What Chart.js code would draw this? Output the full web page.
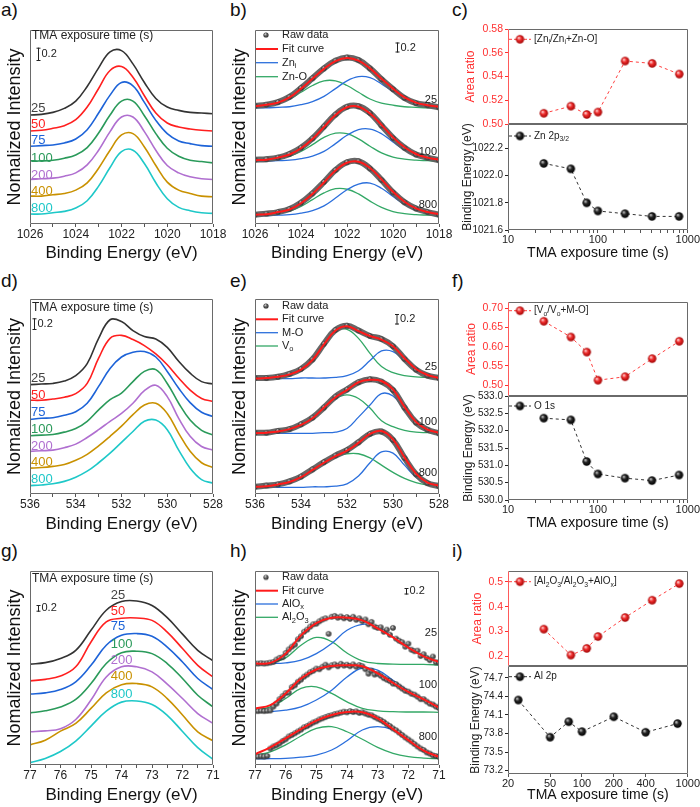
<!DOCTYPE html>
<html><head><meta charset="utf-8">
<style>
html,body{margin:0;padding:0;background:#fff;}
#wrap{position:relative;width:700px;height:807px;overflow:hidden;background:#fff;}
#wrap canvas{position:absolute;left:0;top:0;}
.pl{position:absolute;font-family:'Liberation Sans',Arial,sans-serif;font-size:19px;line-height:19px;color:#111;}
</style>
<script src="https://cdn.jsdelivr.net/npm/chart.js@4.4.1/dist/chart.umd.min.js"></script>
</head><body>
<div id="wrap">
<div class="pl" style="left:1px;top:0px">a)</div>
<div class="pl" style="left:230px;top:0px">b)</div>
<div class="pl" style="left:452px;top:0px">c)</div>
<div class="pl" style="left:1px;top:271px">d)</div>
<div class="pl" style="left:230px;top:271px">e)</div>
<div class="pl" style="left:452px;top:271px">f)</div>
<div class="pl" style="left:1px;top:541px">g)</div>
<div class="pl" style="left:230px;top:541px">h)</div>
<div class="pl" style="left:452px;top:541px">i)</div>
</div>
<script>
// ---------------- DATA ----------------
const timeLabels = ['25','50','75','100','200','400','800'];
const exposureTimes = [25,50,75,100,200,400,800];

// (a) Zn 2p spectra
const zn_x = [1026,1025.5,1025,1024.5,1024,1023.5,1023,1022.5,1022,1021.5,1021,1020.5,1020,1019.5,1019,1018.5,1018];
const zn_25  = [1.64,1.65,1.68,1.74,1.85,2.07,2.35,2.59,2.61,2.41,2.13,1.89,1.76,1.71,1.68,1.67,1.66];
const zn_50  = [1.40,1.41,1.44,1.48,1.57,1.76,2.04,2.31,2.37,2.21,1.93,1.67,1.52,1.46,1.43,1.41,1.40];
const zn_75  = [1.17,1.18,1.19,1.22,1.28,1.42,1.67,1.94,2.13,2.08,1.83,1.56,1.36,1.25,1.21,1.18,1.17];
const zn_100 = [0.95,0.95,0.96,0.99,1.04,1.15,1.37,1.64,1.85,1.85,1.63,1.36,1.14,1.02,0.96,0.94,0.92];
const zn_200 = [0.67,0.68,0.69,0.72,0.77,0.89,1.11,1.39,1.61,1.61,1.39,1.11,0.88,0.77,0.71,0.68,0.67];
const zn_400 = [0.42,0.42,0.44,0.46,0.51,0.62,0.84,1.11,1.34,1.36,1.16,0.88,0.63,0.51,0.46,0.42,0.41];
const zn_800 = [0.15,0.15,0.17,0.19,0.24,0.35,0.57,0.85,1.09,1.11,0.91,0.62,0.38,0.25,0.20,0.17,0.16];

// (b) Zn 2p fits
const b25_raw = [2.28,2.30,2.35,2.45,2.62,2.81,3.00,3.15,3.21,3.16,3.00,2.79,2.60,2.43,2.33,2.29,2.25];
const b25_fit = [2.27,2.30,2.34,2.44,2.61,2.80,2.99,3.14,3.20,3.15,3.00,2.80,2.61,2.44,2.34,2.29,2.26];
const b25_zni = [2.24,2.24,2.25,2.26,2.30,2.36,2.46,2.61,2.76,2.84,2.82,2.70,2.55,2.41,2.32,2.28,2.26];
const b25_zno = [2.26,2.29,2.33,2.41,2.54,2.67,2.76,2.76,2.67,2.54,2.41,2.33,2.29,2.26,2.25,2.24,2.24];
const b100_raw = [1.24,1.25,1.28,1.35,1.47,1.65,1.88,2.11,2.26,2.27,2.14,1.90,1.66,1.47,1.34,1.28,1.23];
const b100_fit = [1.23,1.24,1.28,1.34,1.46,1.64,1.87,2.10,2.25,2.26,2.13,1.91,1.67,1.48,1.35,1.28,1.24];
const b100_zni = [1.21,1.21,1.22,1.23,1.26,1.31,1.40,1.55,1.71,1.82,1.83,1.74,1.58,1.43,1.32,1.27,1.23];
const b100_zno = [1.22,1.23,1.26,1.31,1.40,1.53,1.67,1.75,1.74,1.64,1.50,1.37,1.29,1.25,1.23,1.22,1.21];
const b800_raw = [0.18,0.20,0.23,0.29,0.41,0.59,0.81,1.04,1.19,1.21,1.07,0.85,0.61,0.42,0.30,0.23,0.18];
const b800_fit = [0.18,0.19,0.23,0.28,0.40,0.58,0.80,1.03,1.18,1.20,1.08,0.86,0.62,0.43,0.30,0.23,0.19];
const b800_zni = [0.16,0.16,0.17,0.18,0.21,0.26,0.35,0.50,0.66,0.77,0.79,0.69,0.53,0.38,0.27,0.22,0.18];
const b800_zno = [0.17,0.18,0.21,0.25,0.34,0.47,0.60,0.68,0.67,0.58,0.44,0.32,0.24,0.20,0.18,0.17,0.16];

// (d) O 1s spectra
const o_x = [536,535.5,535,534.5,534,533.5,533,532.5,532,531.5,531,530.5,530,529.5,529,528.5,528];
const o_25  = [1.82,1.83,1.84,1.88,1.97,2.17,2.59,2.90,2.87,2.72,2.62,2.58,2.44,2.21,2.01,1.87,1.83];
const o_50  = [1.56,1.56,1.58,1.61,1.67,1.84,2.26,2.59,2.64,2.57,2.47,2.33,2.15,1.93,1.73,1.59,1.54];
const o_75  = [1.24,1.26,1.27,1.31,1.37,1.51,1.79,2.09,2.28,2.36,2.37,2.28,2.04,1.76,1.52,1.36,1.29];
const o_100 = [0.97,0.98,0.99,1.03,1.09,1.21,1.40,1.57,1.68,1.87,2.04,2.07,1.84,1.51,1.23,1.06,0.98];
const o_200 = [0.71,0.72,0.73,0.77,0.83,0.94,1.07,1.21,1.34,1.51,1.72,1.81,1.62,1.26,0.96,0.79,0.73];
const o_400 = [0.43,0.44,0.46,0.49,0.56,0.66,0.80,0.96,1.13,1.32,1.48,1.51,1.34,1.01,0.71,0.52,0.44];
const o_800 = [0.14,0.15,0.17,0.21,0.28,0.38,0.52,0.68,0.86,1.04,1.21,1.23,1.07,0.73,0.43,0.24,0.18];

// (e) O 1s fits
const e25_raw = [1.93,1.93,1.95,2.00,2.08,2.24,2.50,2.73,2.80,2.72,2.63,2.58,2.46,2.25,2.07,1.97,1.93];
const e25_fit = [1.92,1.93,1.95,1.99,2.07,2.23,2.49,2.72,2.79,2.71,2.63,2.57,2.46,2.26,2.08,1.98,1.93];
const e25_mo  = [1.92,1.92,1.92,1.92,1.93,1.93,1.93,1.94,1.97,2.05,2.22,2.38,2.37,2.22,2.06,1.97,1.93];
const e25_vo  = [1.93,1.93,1.96,1.99,2.07,2.23,2.48,2.71,2.74,2.59,2.34,2.12,2.02,1.97,1.95,1.94,1.93];
const e100_raw = [1.02,1.02,1.05,1.08,1.16,1.27,1.44,1.62,1.74,1.86,1.91,1.87,1.73,1.44,1.19,1.07,1.01];
const e100_fit = [1.01,1.02,1.04,1.08,1.15,1.26,1.44,1.61,1.73,1.86,1.90,1.88,1.74,1.45,1.20,1.07,1.02];
const e100_mo  = [1.01,1.01,1.01,1.01,1.01,1.01,1.02,1.03,1.09,1.28,1.48,1.67,1.63,1.40,1.18,1.06,1.02];
const e100_vo  = [1.01,1.02,1.04,1.08,1.15,1.26,1.43,1.59,1.65,1.59,1.43,1.22,1.12,1.06,1.03,1.02,1.01];
const e800_raw = [0.12,0.14,0.16,0.21,0.29,0.41,0.53,0.64,0.73,0.86,1.00,1.04,0.90,0.60,0.33,0.18,0.13];
const e800_fit = [0.12,0.13,0.16,0.20,0.28,0.40,0.52,0.63,0.72,0.85,1.00,1.05,0.91,0.61,0.34,0.19,0.14];
const e800_mo  = [0.11,0.11,0.11,0.11,0.11,0.12,0.12,0.13,0.17,0.30,0.52,0.70,0.68,0.48,0.28,0.17,0.14];
const e800_vo  = [0.12,0.13,0.16,0.21,0.29,0.40,0.52,0.62,0.67,0.67,0.60,0.48,0.36,0.26,0.19,0.15,0.13];

// (g) Al 2p spectra
const al_x = [77,76.5,76,75.5,75,74.5,74,73.5,73,72.5,72,71.5,71];
const al_25  = [3.37,3.42,3.56,3.83,4.50,5.17,5.46,5.48,5.33,4.92,4.37,3.83,3.48];
const al_50  = [2.81,2.86,2.97,3.28,4.11,4.78,4.90,4.91,4.83,4.44,3.89,3.33,2.94];
const al_75  = [2.37,2.41,2.52,2.78,3.33,4.00,4.33,4.39,4.30,3.94,3.44,2.89,2.52];
const al_100 = [1.74,1.81,1.94,2.19,2.72,3.39,3.75,3.80,3.72,3.39,2.89,2.33,1.94];
const al_200 = [1.11,1.14,1.21,1.52,2.17,2.94,3.28,3.28,3.11,2.70,2.22,1.72,1.39];
const al_400 = [0.67,0.83,1.13,1.39,1.89,2.41,2.68,2.72,2.61,2.22,1.67,1.11,0.81];
const al_800 = [0.08,0.22,0.45,0.80,1.30,1.80,2.10,2.14,2.02,1.66,1.12,0.58,0.19];

// (h) Al 2p fits
const alRaw_x = [77,76.9,76.8,76.7,76.6,76.5,76.4,76.3,76.2,76.1,76,75.9,75.8,75.7,75.6,75.5,75.4,75.3,75.2,75.1,75,74.9,74.8,74.7,74.6,74.5,74.4,74.3,74.2,74.1,74,73.9,73.8,73.7,73.6,73.5,73.4,73.3,73.2,73.1,73,72.9,72.8,72.7,72.6,72.5,72.4,72.3,72.2,72.1,72,71.9,71.8,71.7,71.6,71.5,71.4,71.3,71.2,71.1,71];
const h25_raw = [3.39,3.39,3.40,3.39,3.40,3.42,3.44,3.52,3.58,3.60, 3.74,3.86,3.95,4.02,4.20,4.30,4.45,4.52,4.62,4.70, 4.72,4.80,4.86,4.90,4.38,4.95,4.98,4.92,4.96,4.90, 4.94,4.88,4.95,4.85,4.90,4.80,4.86,4.70,4.78,4.62, 4.58,4.60,4.45,4.52,4.35,4.58,4.22,4.15,4.10,3.95, 4.05,3.85,3.80,3.82,3.64,3.70,3.58,3.50,3.62,3.43,3.42];
const h25_fit   = [3.39,3.41,3.72,4.33,4.74,4.92,4.92,4.83,4.56,4.26,3.92,3.63,3.44];
const h25_alox  = [3.39,3.39,3.41,3.50,3.72,4.06,4.50,4.70,4.61,4.28,3.94,3.63,3.44];
const h25_al2o3 = [3.39,3.41,3.58,4.00,4.26,4.12,3.74,3.48,3.39,3.37,3.36,3.36,3.34];
const h100_raw = [1.80,1.80,1.81,1.80,1.81,1.82,1.95,2.05,2.20,2.30, 2.40,2.42,2.60,2.66,2.78,2.85,2.95,3.02,3.10,3.15, 3.22,3.20,3.28,3.35,3.26,3.33,3.36,3.30,3.38,3.32, 3.35,3.30,3.36,3.28,3.34,3.30,3.20,3.05,3.15,3.02, 3.05,2.98,2.90,2.85,2.80,2.72,2.70,2.62,2.55,2.48, 2.45,2.38,2.35,2.28,2.20,2.20,2.12,2.05,2.02,1.95,1.90];
const h100_fit   = [1.89,2.00,2.39,2.89,3.19,3.31,3.33,3.30,3.06,2.74,2.44,2.19,1.92];
const h100_alox  = [1.77,1.78,1.83,1.94,2.17,2.50,2.94,3.24,3.17,2.83,2.48,2.17,1.89];
const h100_al2o3 = [1.83,1.94,2.22,2.56,2.61,2.39,2.11,1.89,1.81,1.78,1.77,1.77,1.76];
const h800_raw = [0.28,0.28,0.29,0.28,0.30,0.55,0.62,0.66,0.72,0.80, 0.86,0.95,1.00,1.06,1.12,1.18,1.26,1.30,1.36,1.42, 1.46,1.52,1.56,1.60,1.64,1.66,1.70,1.72,1.75,1.78, 1.76,1.80,1.77,1.79,1.74,1.76,1.72,1.68,1.66,1.60, 1.55,1.50,1.44,1.36,1.30,1.22,1.16,1.08,1.00,0.92, 0.85,0.78,0.70,0.62,0.55,0.50,0.42,0.38,0.32,0.30,0.27];
const h800_fit   = [0.36,0.59,0.89,1.20,1.48,1.67,1.77,1.76,1.56,1.20,0.83,0.48,0.27];
const h800_alox  = [0.21,0.21,0.22,0.26,0.33,0.50,0.81,1.17,1.28,1.17,0.86,0.52,0.28];
const h800_al2o3 = [0.32,0.44,0.67,0.97,1.22,1.28,1.11,0.86,0.59,0.39,0.28,0.23,0.21];

// (c)(f)(i) summary data
const znRatio = [0.509,0.515,0.508,0.510,0.553,0.551,0.542];
const znBE    = [1022.09,1022.05,1021.80,1021.74,1021.72,1021.70,1021.70];
const oRatio  = [0.666,0.625,0.586,0.513,0.522,0.569,0.614];
const oBE     = [532.36,532.31,531.11,530.75,530.63,530.56,530.72];
const alRatio = [0.309,0.204,0.231,0.279,0.356,0.426,0.493];
const alBE    = [74.34,73.74,73.99,73.83,74.07,73.82,73.96];
const logTicksI = [20,50,100,200,400,1000];

// ---------------- STYLE / HELPERS ----------------
const FONT = "'Liberation Sans', Arial, Helvetica, sans-serif";
Chart.defaults.font.family = FONT;
Chart.defaults.color = '#222';
const W = 700, H = 807;
const COLORS = ['#333333','#ff1f1f','#1d63d8','#2a9a5a','#b06fd0','#c99100','#1ec8c8'];
const LABELCOL = ['#444444','#ff1f1f','#1d63d8','#2a9a5a','#b06fd0','#c99100','#1ec8c8'];
const FITRED = '#ff1a1a', CBLUE = '#2b6fdc', CGREEN = '#33a866';
const RATIORED = '#ff4040';

function sphere(r, base, light, dark) {
  const s = Math.ceil(2 * r + 2);
  const c = document.createElement('canvas'); c.width = s; c.height = s;
  const g = c.getContext('2d');
  const cx = s / 2, cy = s / 2;
  const grad = g.createRadialGradient(cx - r * 0.35, cy - r * 0.4, r * 0.05, cx, cy, r);
  grad.addColorStop(0, light); grad.addColorStop(0.45, base); grad.addColorStop(1, dark);
  g.fillStyle = grad; g.beginPath(); g.arc(cx, cy, r, 0, Math.PI * 2); g.fill();
  return c;
}
const redBall = sphere(4.2, '#f03030', '#ffe0e0', '#a00000');
const blackBall = sphere(4.2, '#252525', '#d0d0d0', '#000000');
const grayBall = sphere(2.6, '#6a6a6a', '#e8e8e8', '#2a2a2a');
const grayBallH = sphere(2.8, '#6a6a6a', '#e8e8e8', '#2a2a2a');

function drawRich(ctx, str, x, y, size, color, align) {
  const segs = str.split(/(_\{[^}]*\})/).filter(s => s.length).map(p =>
    p.startsWith('_{') ? {t: p.slice(2, -1), sub: true} : {t: p, sub: false});
  ctx.save();
  ctx.fillStyle = color; ctx.textBaseline = 'middle'; ctx.textAlign = 'left';
  let total = 0;
  segs.forEach(s => { ctx.font = (s.sub ? size * 0.68 : size) + 'px ' + FONT; s.w = ctx.measureText(s.t).width; total += s.w; });
  let cx = align === 'right' ? x - total : (align === 'center' ? x - total / 2 : x);
  segs.forEach(s => {
    ctx.font = (s.sub ? size * 0.68 : size) + 'px ' + FONT;
    ctx.fillText(s.t, cx, s.sub ? y + size * 0.3 : y);
    cx += s.w;
  });
  ctx.restore();
}
function scaleBar(ctx, x, y1, y2, size) {
  ctx.save(); ctx.strokeStyle = '#222'; ctx.lineWidth = 1;
  ctx.beginPath();
  ctx.moveTo(x + 0.5, y1); ctx.lineTo(x + 0.5, y2);
  ctx.moveTo(x - 1.5, y1 + 0.5); ctx.lineTo(x + 2.5, y1 + 0.5);
  ctx.moveTo(x - 1.5, y2 - 0.5); ctx.lineTo(x + 2.5, y2 - 0.5);
  ctx.stroke(); ctx.restore();
  drawRich(ctx, '0.2', x + 3.5, (y1 + y2) / 2, size, '#222', 'left');
}
function drawFrame(chart, leftColor) {
  const {ctx, chartArea: a} = chart;
  ctx.save(); ctx.lineWidth = 1; ctx.strokeStyle = '#6a6a6a';
  const l = Math.round(a.left) + 0.5, t = Math.round(a.top) + 0.5, r = Math.round(a.right) - 0.5, b = Math.round(a.bottom) - 0.5;
  ctx.beginPath(); ctx.moveTo(l, t); ctx.lineTo(r, t); ctx.lineTo(r, b); ctx.lineTo(l, b);
  if (!leftColor) ctx.closePath();
  ctx.stroke();
  if (leftColor) { ctx.strokeStyle = leftColor; ctx.beginPath(); ctx.moveTo(l, t); ctx.lineTo(l, b); ctx.stroke(); }
  ctx.restore();
}
function specLegend(ctx, rows) {
  rows.forEach(r => {
    if (r.dot) ctx.drawImage(grayBall, 266 - grayBall.width / 2, r.y - grayBall.height / 2);
    else {
      ctx.save(); ctx.strokeStyle = r.color; ctx.lineWidth = r.w;
      ctx.beginPath(); ctx.moveTo(256, r.y); ctx.lineTo(278, r.y); ctx.stroke(); ctx.restore();
    }
    drawRich(ctx, r.text, 282, r.y, 11, '#222', 'left');
  });
}
function ratioLegend(ctx, y, color, img, text) {
  ctx.save(); ctx.strokeStyle = color; ctx.setLineDash([3, 2]); ctx.lineWidth = 1;
  ctx.beginPath(); ctx.moveTo(509, y); ctx.lineTo(531, y); ctx.stroke(); ctx.restore();
  ctx.drawImage(img, 520 - img.width / 2, y - img.height / 2);
  drawRich(ctx, text, 534, y, 10, '#222', 'left');
}
function pts(xs, ys) { return xs.map((x, i) => ({x: x, y: ys[i]})); }
function curve(xs, ys, color, w, order) {
  return {data: pts(xs, ys), borderColor: color, borderWidth: w, pointRadius: 0, tension: 0.4, fill: false, order: order || 0};
}
function rawBand(xs, ys) {
  return {data: pts(xs, ys), borderColor: 'rgba(95,95,95,0.95)', borderWidth: 6, pointStyle: grayBall, pointRadius: 3, tension: 0.4, fill: false, order: 2};
}
function rawDots(xs, ys) {
  return {data: pts(xs, ys), showLine: false, pointStyle: grayBallH, pointRadius: 3, order: 2};
}
function ratioSet(ys, color, img) {
  return {data: pts(exposureTimes, ys), borderColor: color, borderWidth: 1, borderDash: [3, 3], pointStyle: img, pointRadius: 4.5, tension: 0, fill: false};
}

const wrap = document.getElementById('wrap');
function panel(cfg) {
  const c = document.createElement('canvas');
  c.width = W; c.height = H; c.style.width = W + 'px'; c.style.height = H + 'px';
  wrap.appendChild(c);
  const f = cfg.frame;
  const xs = Object.assign({}, cfg.x, {afterFit: s => { s.height = cfg.xH; }});
  const ys = Object.assign({}, cfg.y, {afterFit: s => { s.width = cfg.yW; }});
  return new Chart(c, {
    type: 'line',
    data: {datasets: cfg.datasets},
    options: {
      responsive: false, animation: false, devicePixelRatio: 1,
      layout: {padding: {left: f.l - cfg.yW, top: f.t, right: W - f.r, bottom: H - f.b - cfg.xH}},
      plugins: {legend: {display: false}, tooltip: {enabled: false}},
      scales: {x: xs, y: ys}
    },
    plugins: [{id: 'deco', afterDraw(chart) { drawFrame(chart, cfg.leftColor); if (cfg.deco) cfg.deco(chart, chart.ctx); }}]
  });
}

function beAxis(min, max, step, labelFn) {
  return {type: 'linear', reverse: true, min: min, max: max,
    ticks: {stepSize: step, autoSkip: false, maxRotation: 0, padding: 0, color: '#222', font: {size: 12}, callback: labelFn},
    grid: {drawOnChartArea: false, drawTicks: true, tickLength: 3, color: '#555'},
    border: {display: false},
    title: {display: true, text: 'Binding Energy (eV)', font: {size: 17}, padding: 0, color: '#111'}};
}
function intAxis(max) {
  return {type: 'linear', min: 0, max: max, ticks: {display: false}, grid: {display: false}, border: {display: false},
    title: {display: true, text: 'Nomalized Intensity', font: {size: 18}, padding: 0, color: '#111'}};
}
function valAxis(min, max, step, dec, color, title, tsize) {
  return {type: 'linear', min: min, max: max,
    ticks: {stepSize: step, includeBounds: false, padding: 2, color: color, font: {size: tsize}, callback: v => Number(v).toFixed(dec)},
    grid: {drawOnChartArea: false, drawTicks: true, tickLength: 3, color: color},
    border: {display: false},
    title: {display: true, text: title, font: {size: 12}, padding: 0, color: color}};
}
function logAxis(show, min, fixed) {
  const ax = {type: 'logarithmic', min: min, max: 1000, display: show,
    ticks: {autoSkip: false, maxRotation: 0, padding: 0, color: '#222', font: {size: 11},
      callback: v => fixed ? String(v) : ([10, 100, 1000].includes(v) ? String(v) : '')},
    grid: {drawOnChartArea: false, drawTicks: true, tickLength: 3, color: '#555'},
    border: {display: false},
    title: {display: show, text: 'TMA exposure time (s)', font: {size: 14}, padding: 0, color: '#111'}};
  if (fixed) ax.afterBuildTicks = s => { s.ticks = fixed.map(v => ({value: v})); };
  return ax;
}
const evenLabel = v => (Math.round(v) % 2 === 0 ? String(v) : '');
const intLabel = v => (Number.isInteger(v) ? String(v) : '');
// y-axis box width so that a rotated title of font size fs is centred at x = cx
const yBox = (left, cx, fs) => left - (cx - fs * 0.6);

// ---------------- (a) ----------------
const znSeries = [zn_25, zn_50, zn_75, zn_100, zn_200, zn_400, zn_800];
panel({frame: {l: 30, t: 30, r: 213, b: 224}, yW: 25.8, xH: 39.5,
  x: beAxis(1018, 1026, 1, evenLabel), y: intAxis(2.92),
  datasets: znSeries.map((s, i) => curve(zn_x, s, COLORS[i], 1.6)),
  deco: (ch, ctx) => {
    drawRich(ctx, 'TMA exposure time (s)', 32, 36, 12, '#222', 'left');
    scaleBar(ctx, 38, 47.7, 61, 11);
    const ly = [108.3, 124.3, 140.7, 158.3, 175, 191.7, 208.3];
    timeLabels.forEach((t, i) => drawRich(ctx, t, 31, ly[i], 13, LABELCOL[i], 'left'));
  }});

// ---------------- (b) ----------------
panel({frame: {l: 255, t: 30, r: 439, b: 224}, yW: 25.8, xH: 39.5,
  x: beAxis(1018, 1026, 1, evenLabel), y: intAxis(3.74),
  datasets: [
    curve(zn_x, b25_fit, FITRED, 2, 0), rawBand(zn_x, b25_raw), curve(zn_x, b25_zni, CBLUE, 1.3, 3), curve(zn_x, b25_zno, CGREEN, 1.3, 3),
    curve(zn_x, b100_fit, FITRED, 2, 0), rawBand(zn_x, b100_raw), curve(zn_x, b100_zni, CBLUE, 1.3, 3), curve(zn_x, b100_zno, CGREEN, 1.3, 3),
    curve(zn_x, b800_fit, FITRED, 2, 0), rawBand(zn_x, b800_raw), curve(zn_x, b800_zni, CBLUE, 1.3, 3), curve(zn_x, b800_zno, CGREEN, 1.3, 3)
  ],
  deco: (ch, ctx) => {
    specLegend(ctx, [{dot: true, y: 35, text: 'Raw data'}, {color: FITRED, w: 2, y: 49, text: 'Fit curve'},
      {color: CBLUE, w: 1.3, y: 62.7, text: 'Zn_{i}'}, {color: CGREEN, w: 1.3, y: 76.7, text: 'Zn-O'}]);
    scaleBar(ctx, 397, 42.5, 52.5, 11);
    drawRich(ctx, '25', 437, 100, 11, '#222', 'right');
    drawRich(ctx, '100', 437, 151.7, 11, '#222', 'right');
    drawRich(ctx, '800', 437, 205, 11, '#222', 'right');
  }});

// ---------------- (c) ----------------
panel({frame: {l: 508, t: 29, r: 688, b: 124}, yW: yBox(508, 471, 12), xH: 0, leftColor: '#ff5a5a',
  x: logAxis(false, 10), y: valAxis(0.50, 0.58, 0.02, 2, '#ff3030', 'Area ratio', 10.5),
  datasets: [ratioSet(znRatio, RATIORED, redBall)],
  deco: (ch, ctx) => ratioLegend(ctx, 39.3, RATIORED, redBall, '[Zn_{i}/Zn_{i}+Zn-O]')});
panel({frame: {l: 508, t: 124, r: 688, b: 230}, yW: yBox(508, 467.5, 12), xH: 31.7,
  x: logAxis(true, 10), y: valAxis(1021.6, 1022.38, 0.2, 1, '#222', 'Binding Energy (eV)', 10),
  datasets: [ratioSet(znBE, '#333', blackBall)],
  deco: (ch, ctx) => ratioLegend(ctx, 136, '#333', blackBall, 'Zn 2p_{3/2}')});

// ---------------- (d) ----------------
const oSeries = [o_25, o_50, o_75, o_100, o_200, o_400, o_800];
panel({frame: {l: 30, t: 299, r: 213, b: 494}, yW: 25.8, xH: 40.2,
  x: beAxis(528, 536, 1, evenLabel), y: intAxis(3.245),
  datasets: oSeries.map((s, i) => curve(o_x, s, COLORS[i], 1.6)),
  deco: (ch, ctx) => {
    drawRich(ctx, 'TMA exposure time (s)', 32, 307.7, 12, '#222', 'left');
    scaleBar(ctx, 34, 318.3, 330, 11);
    const ly = [378.3, 395, 412.7, 429.3, 446, 462.7, 479.3];
    timeLabels.forEach((t, i) => drawRich(ctx, t, 31, ly[i], 13, LABELCOL[i], 'left'));
  }});

// ---------------- (e) ----------------
panel({frame: {l: 255, t: 299, r: 439, b: 494}, yW: 25.8, xH: 40.2,
  x: beAxis(528, 536, 1, evenLabel), y: intAxis(3.245),
  datasets: [
    curve(o_x, e25_fit, FITRED, 2, 0), rawBand(o_x, e25_raw), curve(o_x, e25_mo, CBLUE, 1.3, 3), curve(o_x, e25_vo, CGREEN, 1.3, 3),
    curve(o_x, e100_fit, FITRED, 2, 0), rawBand(o_x, e100_raw), curve(o_x, e100_mo, CBLUE, 1.3, 3), curve(o_x, e100_vo, CGREEN, 1.3, 3),
    curve(o_x, e800_fit, FITRED, 2, 0), rawBand(o_x, e800_raw), curve(o_x, e800_mo, CBLUE, 1.3, 3), curve(o_x, e800_vo, CGREEN, 1.3, 3)
  ],
  deco: (ch, ctx) => {
    specLegend(ctx, [{dot: true, y: 306, text: 'Raw data'}, {color: FITRED, w: 2, y: 319.3, text: 'Fit curve'},
      {color: CBLUE, w: 1.3, y: 332.7, text: 'M-O'}, {color: CGREEN, w: 1.3, y: 346, text: 'V_{o}'}]);
    scaleBar(ctx, 396.5, 314, 324.5, 11);
    drawRich(ctx, '25', 437, 366.7, 11, '#222', 'right');
    drawRich(ctx, '100', 437, 421.7, 11, '#222', 'right');
    drawRich(ctx, '800', 437, 473.3, 11, '#222', 'right');
  }});

// ---------------- (f) ----------------
panel({frame: {l: 508, t: 302, r: 688, b: 396}, yW: yBox(508, 472, 12), xH: 0, leftColor: '#ff5a5a',
  x: logAxis(false, 10), y: valAxis(0.472, 0.716, 0.05, 2, '#ff3030', 'Area ratio', 10.5),
  datasets: [ratioSet(oRatio, RATIORED, redBall)],
  deco: (ch, ctx) => ratioLegend(ctx, 310.7, RATIORED, redBall, '[V_{o}/V_{o}+M-O]')});
panel({frame: {l: 508, t: 396, r: 688, b: 500}, yW: yBox(508, 468.5, 12), xH: 31.7,
  x: logAxis(true, 10), y: valAxis(530.0, 533.0, 0.5, 1, '#222', 'Binding Energy (eV)', 10),
  datasets: [ratioSet(oBE, '#333', blackBall)],
  deco: (ch, ctx) => ratioLegend(ctx, 406, '#333', blackBall, 'O 1s')});

// ---------------- (g) ----------------
const alSeries = [al_25, al_50, al_75, al_100, al_200, al_400, al_800];
panel({frame: {l: 30, t: 571, r: 213, b: 765}, yW: 25.8, xH: 40.2,
  x: beAxis(71, 77, 0.5, intLabel), y: intAxis(6.48),
  datasets: alSeries.map((s, i) => curve(al_x, s, COLORS[i], 1.6)),
  deco: (ch, ctx) => {
    drawRich(ctx, 'TMA exposure time (s)', 32, 578.3, 12, '#222', 'left');
    scaleBar(ctx, 38, 605, 611.7, 11);
    const ly = [595, 611.7, 626.7, 644.3, 660, 676.7, 694.3];
    const lx = [118, 118, 118, 121.7, 121.7, 121.7, 121.7];
    timeLabels.forEach((t, i) => drawRich(ctx, t, lx[i], ly[i], 13, LABELCOL[i], 'center'));
  }});

// ---------------- (h) ----------------
panel({frame: {l: 255, t: 571, r: 439, b: 765}, yW: 25.8, xH: 40.2,
  x: beAxis(71, 77, 0.5, intLabel), y: intAxis(6.48),
  datasets: [
    curve(al_x, h25_fit, FITRED, 2, 0), rawDots(alRaw_x, h25_raw), curve(al_x, h25_alox, CBLUE, 1.3, 3), curve(al_x, h25_al2o3, CGREEN, 1.3, 3),
    curve(al_x, h100_fit, FITRED, 2, 0), rawDots(alRaw_x, h100_raw), curve(al_x, h100_alox, CBLUE, 1.3, 3), curve(al_x, h100_al2o3, CGREEN, 1.3, 3),
    curve(al_x, h800_fit, FITRED, 2, 0), rawDots(alRaw_x, h800_raw), curve(al_x, h800_alox, CBLUE, 1.3, 3), curve(al_x, h800_al2o3, CGREEN, 1.3, 3)
  ],
  deco: (ch, ctx) => {
    specLegend(ctx, [{dot: true, y: 577.3, text: 'Raw data'}, {color: FITRED, w: 2, y: 590.7, text: 'Fit curve'},
      {color: CBLUE, w: 1.3, y: 604, text: 'AlO_{x}'}, {color: CGREEN, w: 1.3, y: 617.3, text: 'Al_{2}O_{3}'}]);
    scaleBar(ctx, 406, 588, 594.5, 11);
    drawRich(ctx, '25', 437, 632.7, 11, '#222', 'right');
    drawRich(ctx, '100', 437, 685, 11, '#222', 'right');
    drawRich(ctx, '800', 437, 736.7, 11, '#222', 'right');
  }});

// ---------------- (i) ----------------
panel({frame: {l: 508, t: 571, r: 688, b: 666}, yW: yBox(508, 478, 12), xH: 0, leftColor: '#ff5a5a',
  x: logAxis(false, 10), y: valAxis(0.16, 0.544, 0.1, 1, '#ff3030', 'Area ratio', 10.5),
  datasets: [ratioSet(alRatio, RATIORED, redBall)],
  deco: (ch, ctx) => ratioLegend(ctx, 581.7, RATIORED, redBall, '[Al_{2}O_{3}/Al_{2}O_{3}+AlO_{x}]')});
panel({frame: {l: 508, t: 666, r: 688, b: 774}, yW: yBox(508, 476, 12), xH: 29.4,
  x: logAxis(true, 20, logTicksI), y: valAxis(73.146, 74.89, 0.3, 1, '#222', 'Binding Energy (eV)', 10),
  datasets: [ratioSet(alBE, '#333', blackBall)],
  deco: (ch, ctx) => ratioLegend(ctx, 676.7, '#333', blackBall, 'Al 2p')});
</script>
</body></html>
